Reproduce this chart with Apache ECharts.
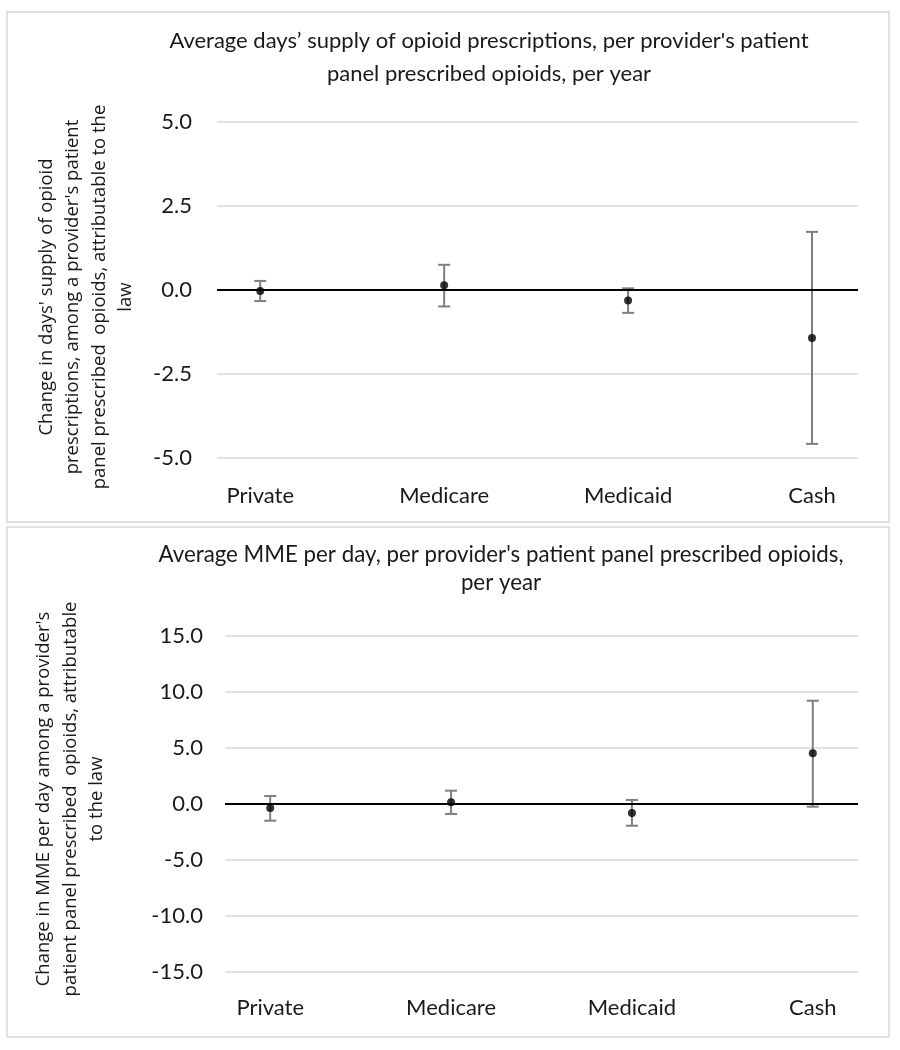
<!DOCTYPE html>
<html><head><meta charset="utf-8">
<script src="https://cdn.jsdelivr.net/npm/echarts@6/dist/echarts.min.js"></script>
<style>html,body{margin:0;padding:0;background:#fff}#c{width:900px;height:1050px}</style>
</head><body><div id="c"></div>
<script>
// ---- data ----
const categories = ['Private', 'Medicare', 'Medicaid', 'Cash'];
const daysEstimate = [-0.03, 0.14, -0.31, -1.43];
const daysLower = [-0.33, -0.49, -0.68, -4.58];
const daysUpper = [0.27, 0.75, 0.05, 1.73];
const mmeEstimate = [-0.36, 0.15, -0.80, 4.53];
const mmeLower = [-1.49, -0.89, -1.94, -0.24];
const mmeUpper = [0.71, 1.19, 0.36, 9.22];
const daysTitle = 'Average days\u2019 supply of opioid prescriptions, per provider\'s patient\npanel prescribed opioids, per year';
const mmeTitle = 'Average MME per day, per provider\'s patient panel prescribed opioids,\nper year';
const daysAxisName = 'Change in days\' supply of opioid\nprescriptions, among a provider\'s patient\npanel prescribed  opioids, attributable to the\nlaw';
const mmeAxisName = 'Change in MME per day among a provider\'s\npatient panel prescribed  opioids, attributable\nto the law';

const positions = categories.map((c, i) => i + 1);
const txt = '#1a1a1a';
const calFont = 'Lato';
const nameFont = "'Open Sans', 'Noto Sans', sans-serif";

function errorBarItem(params, api) {
  const x = api.value(0), lo = api.value(1), hi = api.value(2);
  const pLo = api.coord([x, lo]), pHi = api.coord([x, hi]);
  const hw = 6;
  const style = { stroke: '#7f7f7f', lineWidth: 2 };
  return { type: 'group', children: [
    { type: 'line', shape: { x1: pLo[0], y1: pLo[1], x2: pHi[0], y2: pHi[1] }, style },
    { type: 'line', shape: { x1: pLo[0] - hw, y1: pLo[1], x2: pLo[0] + hw, y2: pLo[1] }, style },
    { type: 'line', shape: { x1: pHi[0] - hw, y1: pHi[1], x2: pHi[0] + hw, y2: pHi[1] }, style }
  ]};
}

function xAxisCfg(gi, min, max, margin) {
  return {
    gridIndex: gi, type: 'value', min: min, max: max,
    axisLine: { show: false }, axisTick: { show: false }, splitLine: { show: false },
    axisLabel: { customValues: positions, formatter: v => categories[Math.round(v) - 1],
      margin: margin, fontFamily: calFont, fontSize: 22, color: txt }
  };
}
function yAxisCfg(gi, min, max, interval, margin, name, nameGap, namePad) {
  return {
    gridIndex: gi, type: 'value', min: min, max: max, interval: interval,
    axisLine: { show: false }, axisTick: { show: false },
    splitLine: { show: true, lineStyle: { color: '#d9d9d9', width: 1.5 } },
    axisLabel: { formatter: v => v.toFixed(1), margin: margin, fontFamily: calFont, fontSize: 22, color: txt },
    name: name, nameLocation: 'middle', nameRotate: 90, nameGap: nameGap,
    nameTextStyle: { fontFamily: nameFont, fontSize: 18.5, lineHeight: 26.5, color: txt, padding: namePad }
  };
}
const zeroLine = { silent: true, symbol: 'none', label: { show: false },
  lineStyle: { color: '#000', width: 2, type: 'solid' }, data: [{ yAxis: 0 }] };

const chart = echarts.init(document.getElementById('c'), null, { renderer: 'canvas' });
chart.setOption({
  animation: false,
  backgroundColor: '#fff',
  graphic: [
    { type: 'rect', z: -10, shape: { x: 7, y: 12, width: 882, height: 510 }, style: { fill: '#fff', stroke: '#d9d9d9', lineWidth: 1.5 } },
    { type: 'rect', z: -10, shape: { x: 7, y: 527, width: 882, height: 510 }, style: { fill: '#fff', stroke: '#d9d9d9', lineWidth: 1.5 } }
  ],
  title: [
    { text: daysTitle, left: 484, top: 19, textAlign: 'center',
      textStyle: { fontFamily: calFont, fontSize: 22, fontWeight: 'normal', color: txt, lineHeight: 33 } },
    { text: mmeTitle, left: 496, top: 536, textAlign: 'center',
      textStyle: { fontFamily: calFont, fontSize: 22.3, fontWeight: 'normal', color: txt, lineHeight: 28 } }
  ],
  grid: [
    { left: 217, right: 42, top: 122, height: 336 },
    { left: 225, right: 42, top: 636, height: 336 }
  ],
  xAxis: [ xAxisCfg(0, 0.765, 4.25, 27), xAxisCfg(1, 0.75, 4.25, 25) ],
  yAxis: [
    yAxisCfg(0, -5, 5, 2.5, 25, daysAxisName, 78, [0, 14, 0, 0]),
    yAxisCfg(1, -15, 15, 5, 22, mmeAxisName, 115, [0, 0, 0, 10])
  ],
  series: [
    { type: 'custom', xAxisIndex: 0, yAxisIndex: 0, renderItem: errorBarItem,
      encode: { x: 0, y: [1, 2] }, data: positions.map((p, i) => [p, daysLower[i], daysUpper[i]]),
      markLine: zeroLine, z: 2 },
    { type: 'scatter', xAxisIndex: 0, yAxisIndex: 0, symbolSize: 8, itemStyle: { color: '#000' },
      data: positions.map((p, i) => [p, daysEstimate[i]]), z: 3 },
    { type: 'custom', xAxisIndex: 1, yAxisIndex: 1, renderItem: errorBarItem,
      encode: { x: 0, y: [1, 2] }, data: positions.map((p, i) => [p, mmeLower[i], mmeUpper[i]]),
      markLine: zeroLine, z: 2 },
    { type: 'scatter', xAxisIndex: 1, yAxisIndex: 1, symbolSize: 8, itemStyle: { color: '#000' },
      data: positions.map((p, i) => [p, mmeEstimate[i]]), z: 3 }
  ]
});
</script>
</body></html>
